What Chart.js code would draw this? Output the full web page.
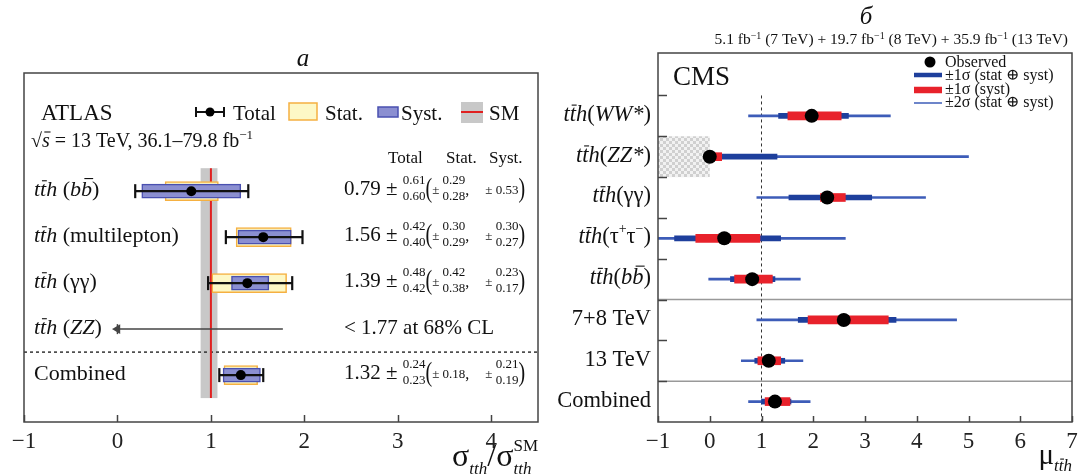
<!DOCTYPE html>
<html>
<head>
<meta charset="utf-8">
<script src="https://cdn.jsdelivr.net/npm/chart.js@4/dist/chart.umd.min.js"></script>
<style>
  html, body { margin: 0; padding: 0; background: #fff; }
  #wrap { position: relative; width: 1078px; height: 476px; }
  .panel { position: absolute; top: 0; }
  #left { left: 0; }
  #right { left: 540px; }
</style>
</head>
<body>
<div id="wrap">
  <div class="panel" id="left"><canvas id="atlasChart" width="540" height="476"></canvas></div>
  <div class="panel" id="right"><canvas id="cmsChart" width="538" height="476"></canvas></div>
</div>
<script>
// ---- ATLAS ttH signal strengths (sigma / sigma_SM) ----
const atlasRows     = ["bb", "multilepton", "γγ", "ZZ", "Combined"];
const atlasMu       = [0.79, 1.56, 1.39, null, 1.32];
const atlasTotUp    = [0.61, 0.42, 0.48, null, 0.24];
const atlasTotDown  = [0.60, 0.40, 0.42, null, 0.23];
const atlasStatUp   = [0.29, 0.30, 0.42, null, 0.18];
const atlasStatDown = [0.28, 0.29, 0.38, null, 0.18];
const atlasSystUp   = [0.53, 0.30, 0.23, null, 0.21];
const atlasSystDown = [0.53, 0.27, 0.17, null, 0.19];
const atlasZZLimit  = 1.77;
const atlasTicks    = [-1, 0, 1, 2, 3, 4];
const smBand        = [0.89, 1.07];
const smRows        = [-0.5, 4.5];

// ---- CMS ttH signal strengths ----
const cmsRows    = ["WW*", "ZZ*", "γγ", "ττ", "bb", "7+8 TeV", "13 TeV", "Combined"];
const cmsMu      = [1.97, 0.00, 2.27, 0.28, 0.82, 2.59, 1.14, 1.26];
const cms1sLo    = [1.33, 0.00, 1.53, -0.68, 0.40, 1.71, 0.87, 1.00];
const cms1sHi    = [2.68, 1.30, 3.13, 1.37, 1.26, 3.60, 1.45, 1.57];
const cmsSystLo  = [1.51, 0.00, 2.14, -0.27, 0.48, 1.90, 0.93, 1.07];
const cmsSystHi  = [2.54, 0.23, 2.62, 0.97, 1.21, 3.45, 1.37, 1.55];
const cms2sLo    = [0.75, 0.00, 0.91, -1.00, -0.02, 0.91, 0.61, 0.75];
const cms2sHi    = [3.49, 5.00, 4.17, 2.62, 1.75, 4.77, 1.80, 1.94];
const cmsTicks   = [-1, 0, 1, 2, 3, 4, 5, 6, 7];
const cmsZZVeto  = [-1, 0];   // unphysical region for ZZ*
const cmsSplits  = [4.5, 6.5];

const SERIF = '"Liberation Serif", "DejaVu Serif", serif';

// rich text pieces
function rm(t, s, dy) { return { t: t, font: s + "px " + SERIF, dy: dy || 0 }; }
function it(t, s, dy) { return { t: t, font: "italic " + s + "px " + SERIF, dy: dy || 0 }; }
function barred(p, h) { p.bar = h; return p; }
function tall(p, k) { p.sy = k; return p; }
function stack(up, dn, upFont, dnFont, upDy, dnDy) {
  return { up: up, dn: dn, upFont: upFont, dnFont: dnFont, upDy: upDy, dnDy: dnDy };
}
function tth(s, dy) {
  return [it("t", s, dy), barred(it("t", s, dy), s * 0.7), it("h", s, dy)];
}
function drawRich(ctx, pieces, x, y, align, color) {
  ctx.save();
  let total = 0;
  pieces.forEach(p => {
    if (p.up !== undefined) {
      ctx.font = p.upFont; const a = ctx.measureText(p.up).width;
      ctx.font = p.dnFont; const b = ctx.measureText(p.dn).width;
      p.w = Math.max(a, b);
    } else {
      ctx.font = p.font; p.w = ctx.measureText(p.t).width;
    }
    total += p.w;
  });
  let cx = align === "right" ? x - total : (align === "center" ? x - total / 2 : x);
  ctx.fillStyle = color || "#111";
  ctx.strokeStyle = color || "#111";
  ctx.textAlign = "left";
  ctx.textBaseline = "alphabetic";
  pieces.forEach(p => {
    if (p.up !== undefined) {
      ctx.font = p.upFont; ctx.fillText(p.up, cx, y + p.upDy);
      ctx.font = p.dnFont; ctx.fillText(p.dn, cx, y + p.dnDy);
    } else if (p.sy) {
      // vertically stretched glyph (tall brackets)
      ctx.save();
      ctx.font = p.font;
      ctx.translate(cx, y + p.dy);
      ctx.scale(1, p.sy);
      ctx.fillText(p.t, 0, 0);
      ctx.restore();
    } else {
      ctx.font = p.font; ctx.fillText(p.t, cx, y + p.dy);
      if (p.bar) {
        ctx.lineWidth = 1.1;
        ctx.beginPath();
        ctx.moveTo(cx + p.w * 0.3, y + p.dy - p.bar);
        ctx.lineTo(cx + p.w * 1.1, y + p.dy - p.bar);
        ctx.stroke();
      }
    }
    cx += p.w;
  });
  ctx.restore();
}

const tickText = v => (v < 0 ? "\u2212" + Math.abs(v) : String(v));
const f2 = v => v.toFixed(2);
// keep the plot frame where the layout padding puts it
const fixXAxis = s => { s.height = 40; s.paddingLeft = 0; s.paddingRight = 0; };

// ---------------- left panel: ATLAS ----------------
const measured = atlasRows.map((_, i) => i).filter(i => atlasMu[i] !== null);
const zzRow = atlasRows.indexOf("ZZ");

function atlasLabel(i) {
  const s = 22;
  const name = atlasRows[i];
  if (name === "Combined") return [rm("Combined", s)];
  if (name === "bb") return tth(s).concat([rm(" (", s), it("b", s), barred(it("b", s), s * 0.8), rm(")", s)]);
  if (name === "ZZ") return tth(s).concat([rm(" (", s), it("ZZ", s), rm(")", s)]);
  return tth(s).concat([rm(" (" + name + ")", s)]);
}

const SMALL = "13px " + SERIF;
function errPart(up, dn) {
  if (up === dn) return rm(f2(up), 13, -1);
  return stack(f2(up), f2(dn), SMALL, SMALL, -11, 5);
}

function atlasValue(i) {
  return [
    rm(f2(atlasMu[i]) + " \u00b1 ", 21),
    stack(f2(atlasTotUp[i]), f2(atlasTotDown[i]), SMALL, SMALL, -11, 5),
    tall(rm("(", 20, 2), 1.35),
    rm("\u00b1 ", 13, -1),
    errPart(atlasStatUp[i], atlasStatDown[i]),
    rm(",    ", 16),
    rm("\u00b1 ", 13, -1),
    errPart(atlasSystUp[i], atlasSystDown[i]),
    tall(rm(")", 20, 2), 1.35)
  ];
}

const atlasDecor = {
  id: "atlasDecor",
  beforeDatasetsDraw(chart) {
    const { ctx, scales: { x, y } } = chart;
    const x0 = x.getPixelForValue(smBand[0]), x1 = x.getPixelForValue(smBand[1]);
    const y0 = y.getPixelForValue(smRows[0]), y1 = y.getPixelForValue(smRows[1]);
    ctx.save();
    ctx.fillStyle = "#c8c8c8";
    ctx.fillRect(x0, y0, x1 - x0, y1 - y0);
    ctx.restore();
  },
  afterDraw(chart) {
    const { ctx, chartArea: a, scales: { x, y } } = chart;
    ctx.save();
    // frame and inward ticks
    ctx.strokeStyle = "#444";
    ctx.lineWidth = 1.5;
    ctx.strokeRect(a.left, a.top, a.right - a.left, a.bottom - a.top);
    x.ticks.forEach(t => {
      const px = Math.round(x.getPixelForValue(t.value)) + 0.5;
      ctx.beginPath(); ctx.moveTo(px, a.bottom); ctx.lineTo(px, a.bottom - 7); ctx.stroke();
    });

    // row labels and numbers
    atlasRows.forEach((_, i) => {
      const py = y.getPixelForValue(i);
      drawRich(ctx, atlasLabel(i), a.left + 10, py + 5, "left");
      if (i === zzRow) {
        drawRich(ctx, [rm("< " + f2(atlasZZLimit) + " at 68% CL", 21)], a.left + 320, py + 5, "left");
      } else {
        drawRich(ctx, atlasValue(i), a.left + 320, py + 4, "left");
      }
    });

    // header
    drawRich(ctx, [rm("ATLAS", 23)], a.left + 17, a.top + 47, "left");
    drawRich(ctx, [rm("\u221a", 20), barred(it("s", 20), 15), rm(" = 13 TeV, 36.1\u201379.8 fb", 20), rm("\u22121", 13, -8)],
      a.left + 7, a.top + 74, "left");
    ctx.font = "17px " + SERIF;
    ctx.fillStyle = "#111";
    ctx.fillText("Total", a.left + 364, a.top + 90);
    ctx.fillText("Stat.", a.left + 422, a.top + 90);
    ctx.fillText("Syst.", a.left + 465, a.top + 90);

    // legend
    const ly = a.top + 39;
    ctx.strokeStyle = "#111"; ctx.lineWidth = 2;
    ctx.beginPath();
    ctx.moveTo(a.left + 172, ly); ctx.lineTo(a.left + 200, ly);
    ctx.moveTo(a.left + 172, ly - 5); ctx.lineTo(a.left + 172, ly + 5);
    ctx.moveTo(a.left + 200, ly - 5); ctx.lineTo(a.left + 200, ly + 5);
    ctx.stroke();
    ctx.fillStyle = "#000";
    ctx.beginPath(); ctx.arc(a.left + 186, ly, 4.5, 0, Math.PI * 2); ctx.fill();
    drawRich(ctx, [rm("Total", 21)], a.left + 209, a.top + 47, "left");

    ctx.fillStyle = "#fdf8c6"; ctx.strokeStyle = "#f5b041"; ctx.lineWidth = 1.5;
    ctx.fillRect(a.left + 265, ly - 9, 28, 17); ctx.strokeRect(a.left + 265, ly - 9, 28, 17);
    drawRich(ctx, [rm("Stat.", 21)], a.left + 301, a.top + 47, "left");

    ctx.fillStyle = "#8b8fd1"; ctx.strokeStyle = "#4a50b0";
    ctx.fillRect(a.left + 354, ly - 5, 20, 10); ctx.strokeRect(a.left + 354, ly - 5, 20, 10);
    drawRich(ctx, [rm("Syst.", 21)], a.left + 377, a.top + 47, "left");

    ctx.fillStyle = "#c8c8c8";
    ctx.fillRect(a.left + 437, ly - 10, 22, 21);
    ctx.strokeStyle = "#e02020"; ctx.lineWidth = 2;
    ctx.beginPath(); ctx.moveTo(a.left + 437, ly); ctx.lineTo(a.left + 459, ly); ctx.stroke();
    drawRich(ctx, [rm("SM", 21)], a.left + 465, a.top + 47, "left");

    // panel letter and axis title
    drawRich(ctx, [it("a", 25)], 303, 66, "center");
    drawRich(ctx, [rm("\u03c3", 32), it("tth", 17, 8), rm("/\u03c3", 32),
      stack("SM", "tth", "17px " + SERIF, "italic 17px " + SERIF, -15, 8)], a.right, 466, "right");
    ctx.restore();
  }
};

new Chart(document.getElementById("atlasChart"), {
  type: "scatter",
  data: {
    datasets: [
      {
        label: "Total",
        data: measured.map(i => ({ x: atlasMu[i], y: i })),
        pointRadius: 5, backgroundColor: "#000", borderWidth: 0, order: 0
      },
      ...measured.map(i => ({
        type: "line",
        label: "Total error",
        data: [{ x: atlasMu[i] - atlasTotDown[i], y: i }, { x: atlasMu[i] + atlasTotUp[i], y: i }],
        borderColor: "#111", borderWidth: 2.2,
        pointStyle: "line", rotation: 90, pointRadius: 7,
        pointBorderColor: "#111", pointBorderWidth: 2.2, order: 1
      })),
      {
        type: "line",
        label: "ZZ limit",
        data: [{ x: atlasZZLimit, y: zzRow }, { x: 0, y: zzRow }, { x: 0, y: zzRow }],
        borderColor: "#444", borderWidth: 1.5,
        pointStyle: ["circle", "triangle", "line"], rotation: [0, -90, 90], pointRadius: [0, 4, 5],
        backgroundColor: "#444", pointBorderColor: "#444", pointBorderWidth: 1.5, order: 1
      },
      {
        type: "bar", indexAxis: "y", label: "Syst.",
        data: measured.map(i => ({ y: i, x: [atlasMu[i] - atlasSystDown[i], atlasMu[i] + atlasSystUp[i]] })),
        backgroundColor: "#8b8fd1", borderColor: "#4a50b0", borderWidth: 1.5,
        borderSkipped: false, barThickness: 14, grouped: false, order: 2
      },
      {
        type: "bar", indexAxis: "y", label: "Stat.",
        data: measured.map(i => ({ y: i, x: [atlasMu[i] - atlasStatDown[i], atlasMu[i] + atlasStatUp[i]] })),
        backgroundColor: "#fdf8c6", borderColor: "#f5b041", borderWidth: 1.5,
        borderSkipped: false, barThickness: 19, grouped: false, order: 3
      },
      {
        type: "line", label: "SM",
        data: [{ x: 1, y: smRows[0] }, { x: 1, y: smRows[1] }],
        borderColor: "#e02020", borderWidth: 2, pointRadius: 0, order: 4
      },
      {
        type: "line", label: "separator",
        data: [{ x: -1, y: 3.5 }, { x: 4.5, y: 3.5 }],
        borderColor: "#333", borderWidth: 1.5, borderDash: [3, 3], pointRadius: 0, order: 4
      }
    ]
  },
  options: {
    responsive: false,
    animation: false,
    devicePixelRatio: 1,
    layout: { autoPadding: false, padding: { left: 24, right: 2, top: 73, bottom: 14 } },
    plugins: { legend: { display: false }, tooltip: { enabled: false } },
    scales: {
      x: {
        type: "linear", min: -1, max: 4.5, offset: false,
        afterBuildTicks: s => { s.ticks = atlasTicks.map(v => ({ value: v })); },
        afterFit: fixXAxis,
        grid: { display: false, drawTicks: false, offset: false },
        border: { display: false },
        ticks: {
          padding: 6, color: "#222", maxRotation: 0, autoSkip: false,
          font: { family: SERIF, size: 23 },
          callback: v => tickText(v)
        }
      },
      y: { type: "linear", min: -2.57, max: 5.02, reverse: true, display: false, offset: false, grid: { offset: false } }
    }
  },
  plugins: [atlasDecor]
});

// ---------------- right panel: CMS ----------------
function cmsLabel(i) {
  const s = 22.5;
  const name = cmsRows[i];
  if (i >= 5) return [rm(name, s)];
  const head = tth(s);
  if (name === "WW*" || name === "ZZ*") return head.concat([rm("(", s), it(name, s), rm(")", s)]);
  if (name === "ττ") return head.concat([rm("(\u03c4", s), rm("+", 14, -10), rm("\u03c4", s), rm("\u2212", 14, -10), rm(")", s)]);
  if (name === "bb") return head.concat([rm("(", s), it("b", s), barred(it("b", s), s * 0.8), rm(")", s)]);
  return head.concat([rm("(" + name + ")", s)]);
}

function hatchPattern(ctx) {
  const c = document.createElement("canvas");
  c.width = 6; c.height = 6;
  const g = c.getContext("2d");
  g.fillStyle = "#f2f2f2"; g.fillRect(0, 0, 6, 6);
  g.fillStyle = "#d0d0d0";
  g.fillRect(0, 0, 3, 3); g.fillRect(3, 3, 3, 3);
  return ctx.createPattern(c, "repeat");
}

const cmsDecor = {
  id: "cmsDecor",
  beforeDatasetsDraw(chart) {
    const { ctx, scales: { x, y } } = chart;
    const zz = cmsRows.indexOf("ZZ*");
    const x0 = x.getPixelForValue(cmsZZVeto[0]), x1 = x.getPixelForValue(cmsZZVeto[1]);
    const y0 = y.getPixelForValue(zz - 0.5), y1 = y.getPixelForValue(zz + 0.5);
    ctx.save();
    ctx.fillStyle = hatchPattern(ctx);
    ctx.fillRect(x0, y0, x1 - x0, y1 - y0);
    ctx.restore();
  },
  afterDraw(chart) {
    const { ctx, chartArea: a, scales: { x, y } } = chart;
    ctx.save();
    ctx.strokeStyle = "#444";
    ctx.lineWidth = 1.5;
    ctx.strokeRect(a.left, a.top, a.right - a.left, a.bottom - a.top);
    x.ticks.forEach(t => {
      const px = Math.round(x.getPixelForValue(t.value)) + 0.5;
      ctx.beginPath(); ctx.moveTo(px, a.bottom); ctx.lineTo(px, a.bottom - 6); ctx.stroke();
    });
    for (let r = -0.5; r < cmsRows.length - 1; r += 1) {
      const py = Math.round(y.getPixelForValue(r)) + 0.5;
      ctx.beginPath(); ctx.moveTo(a.left, py); ctx.lineTo(a.left + 9, py); ctx.stroke();
    }

    cmsRows.forEach((_, i) => {
      drawRich(ctx, cmsLabel(i), a.left - 7, y.getPixelForValue(i) + 5, "right");
    });

    drawRich(ctx, [rm("CMS", 27)], a.left + 15, a.top + 32, "left");

    // legend
    const lx0 = 374, lx1 = 402, tx = 405;
    ctx.fillStyle = "#000";
    ctx.beginPath(); ctx.arc(390, 62, 5.5, 0, Math.PI * 2); ctx.fill();
    drawRich(ctx, [rm("Observed", 16)], tx, 67, "left");
    [[75, "#1e3f9c", 4.5], [90, "#e8222b", 6.5], [103, "#3d5cb8", 1.5]].forEach(([ly, col, w]) => {
      ctx.strokeStyle = col; ctx.lineWidth = w;
      ctx.beginPath(); ctx.moveTo(lx0, ly); ctx.lineTo(lx1, ly); ctx.stroke();
    });
    drawRich(ctx, [rm("\u00b11\u03c3 (stat \u2295 syst)", 16)], tx, 80, "left");
    drawRich(ctx, [rm("\u00b11\u03c3 (syst)", 16)], tx, 94, "left");
    drawRich(ctx, [rm("\u00b12\u03c3 (stat \u2295 syst)", 16)], tx, 107, "left");

    // panel letter, luminosity and axis title
    drawRich(ctx, [it("\u0431", 25)], 326, 24, "center");
    drawRich(ctx, [rm("5.1 fb", 15.5), rm("\u22121", 10, -5), rm(" (7 TeV) + 19.7 fb", 15.5), rm("\u22121", 10, -5),
      rm(" (8 TeV) + 35.9 fb", 15.5), rm("\u22121", 10, -5), rm(" (13 TeV)", 15.5)], a.right - 4, 44, "right");
    drawRich(ctx, [rm("\u03bc", 29)].concat(tth(17, 7)), a.right, 464, "right");
    ctx.restore();
  }
};

const cmsIdx = cmsRows.map((_, i) => i);
new Chart(document.getElementById("cmsChart"), {
  type: "scatter",
  data: {
    datasets: [
      {
        label: "Observed",
        data: cmsIdx.map(i => ({ x: cmsMu[i], y: i })),
        pointRadius: 7, backgroundColor: "#000", borderWidth: 0, order: 0
      },
      {
        type: "bar", indexAxis: "y", label: "±1σ (syst)",
        data: cmsIdx.map(i => ({ y: i, x: [cmsSystLo[i], cmsSystHi[i]] })),
        backgroundColor: "#e8222b", borderWidth: 0, barThickness: 8, grouped: false, order: 1
      },
      {
        type: "bar", indexAxis: "y", label: "±1σ (stat ⊕ syst)",
        data: cmsIdx.map(i => ({ y: i, x: [cms1sLo[i], cms1sHi[i]] })),
        backgroundColor: "#1e3f9c", borderWidth: 0, barThickness: 5, grouped: false, order: 2
      },
      {
        type: "bar", indexAxis: "y", label: "±2σ (stat ⊕ syst)",
        data: cmsIdx.map(i => ({ y: i, x: [cms2sLo[i], cms2sHi[i]] })),
        backgroundColor: "#3d5cb8", borderWidth: 0, barThickness: 2, grouped: false, order: 3
      },
      {
        type: "line", label: "SM",
        data: [{ x: 1, y: -0.5 }, { x: 1, y: 7.5 }],
        borderColor: "#333", borderWidth: 1, borderDash: [3, 3], pointRadius: 0, order: 4
      },
      ...cmsSplits.map(v => ({
        type: "line", label: "split",
        data: [{ x: -1, y: v }, { x: 7, y: v }],
        borderColor: "#999", borderWidth: 1.5, pointRadius: 0, order: 4
      }))
    ]
  },
  options: {
    responsive: false,
    animation: false,
    devicePixelRatio: 1,
    layout: { autoPadding: false, padding: { left: 0, right: 6, top: 53, bottom: 14 } },
    plugins: { legend: { display: false }, tooltip: { enabled: false } },
    scales: {
      x: {
        type: "linear", min: -1, max: 7, offset: false,
        afterBuildTicks: s => { s.ticks = cmsTicks.map(v => ({ value: v })); },
        afterFit: fixXAxis,
        grid: { display: false, drawTicks: false, offset: false },
        border: { display: false },
        ticks: {
          padding: 6, color: "#222", maxRotation: 0, autoSkip: false,
          font: { family: SERIF, size: 23 },
          callback: v => tickText(v)
        }
      },
      y: {
        type: "linear", min: -1.54, max: 7.5, reverse: true, offset: false,
        afterFit: s => { s.width = 118; },
        grid: { display: false, drawTicks: false, offset: false },
        border: { display: false },
        ticks: { display: false }
      }
    }
  },
  plugins: [cmsDecor]
});
</script>
</body>
</html>
